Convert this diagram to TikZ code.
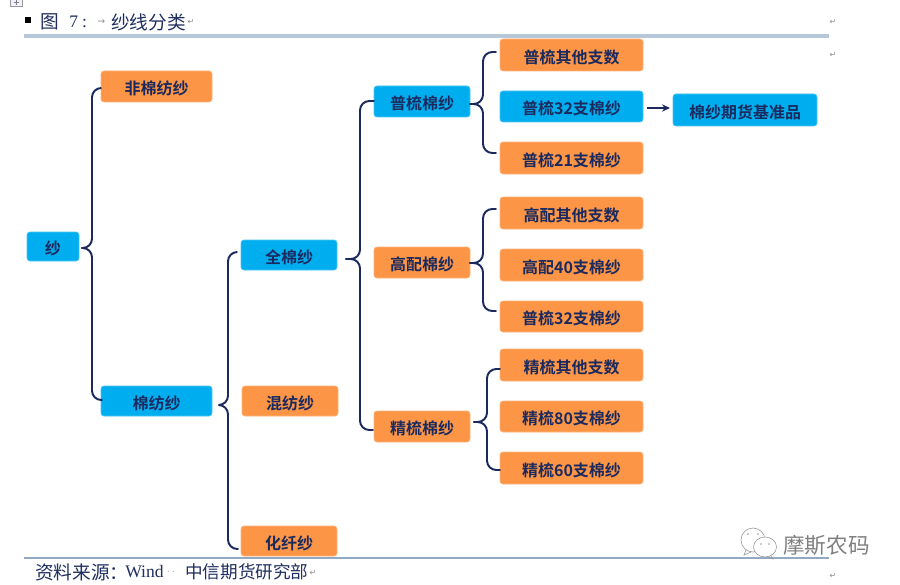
\documentclass[tikz,border=0pt]{standalone}
\usepackage{fontspec}
\setmainfont{Liberation Serif}
\newfontfamily\cjk{Noto Sans CJK SC}
\newfontfamily\cjkb{Noto Sans CJK SC Bold}
\newfontfamily\symf{DejaVu Sans}
\usetikzlibrary{calc,arrows.meta}
\definecolor{ora}{HTML}{FC9646}
\definecolor{blu}{HTML}{00AEEF}
\definecolor{navy}{HTML}{1B2A5E}
\definecolor{ruleA}{HTML}{B5C7D8}
\definecolor{ruleB}{HTML}{92A9C4}
\definecolor{txt}{HTML}{1F2F5F}
\tikzset{
 basebox/.style={rounded corners=2.2pt,inner sep=0pt,outer sep=0pt,font=\cjkb\fontsize{12pt}{13pt}\selectfont,text=navy,anchor=center},
 orabox/.style={basebox,fill=ora,draw=ora!70!white,line width=.5pt},
 blubox/.style={basebox,fill=blu,draw=blu!70!white,line width=.5pt},
 conn/.style={draw=navy,line width=1.45pt,line cap=round,rounded corners=7pt},
 editmark/.style={font=\symf\fontsize{6pt}{6pt}\selectfont,text=black!45,inner sep=0pt},
 bodytext/.style={inner sep=0pt,anchor=west,text=txt,font=\cjk\fontsize{14pt}{15pt}\selectfont},
 orgtext/.style={inner sep=0pt,anchor=west,text=txt,font=\cjk\fontsize{13.2pt}{15pt}\selectfont},
 bodylatin/.style={inner sep=0pt,anchor=west,text=txt,font=\fontsize{13.2pt}{15pt}\selectfont},
 wmline/.style={draw=black!40,line width=.45pt},
}
% node from pixel box: name, style, x0, y0, x1, y1, text
\newcommand{\pbox}[7]{\node[#2,minimum width=#5*.75pt-#3*.75pt,minimum height=#6*.75pt-#4*.75pt] (#1) at ({(#3+#5)/2},{(#4+#6)/2}) {\rule{0pt}{13.4pt}#7};}
% brace arm: parent, child, tip dx, tip dy, end dx, end dy, spine x
\newcommand{\bracearm}[7]{%
 \coordinate (tp) at ($(#1.east)+(#3,#4)$);
 \coordinate (en) at ($(#2.west)+(#5,#6)$);
 \coordinate (sp) at (#7,0);
 \draw[conn] (tp) -- (sp|-tp) -- (sp|-en) -- (en);}
\begin{document}
\begin{tikzpicture}[x=.75pt,y=-.75pt]
\useasboundingbox (0,0) rectangle (900,585);
\fill[white] (0,0) rectangle (900,585);
% rules
\draw[ruleA,line width=2.4pt] (24,36) -- (829,36);
\draw[ruleB,line width=1.5pt] (24,558) -- (829,558);
% header decorations
\draw[black!40,fill=blue!6,line width=.5pt] (10,-2) rectangle (22,6);
\draw[black!50,line width=.4pt] (16,0) -- (16,5) (13.5,2.5) -- (18.5,2.5);
\fill[black] (25,17) rectangle (31,23);
\node[bodytext] (title) at (40,22) {图};
\node[bodylatin] (num) at (69,22) {7\kern3pt:};
\node[editmark,anchor=west,font=\symf\fontsize{7pt}{7pt}\selectfont] (tab) at (97,22) {→};
\node[bodytext] (ttl) at (111,22) {纱线分类};
\node[editmark] (r1) at (191,22) {↵};
\node[editmark] (r2) at (833,22) {↵};
\node[editmark] (r3) at (833,55) {↵};
\node[bodytext] (src) at (35,572) {资料来源：};
\node[bodylatin] (wind) at (125,572) {Wind};
\node[editmark] (dots) at (171,573) {· ·};
\node[orgtext] (org) at (185,572) {中信期货研究部};
\node[editmark] (r4) at (313,573) {↵};
\node[editmark] (r5) at (833,576) {↵};
% nodes
\pbox{sha}{blubox}{27}{232}{79}{261}{纱}
\pbox{feimian}{orabox}{101}{71}{212}{102}{非棉纺纱}
\pbox{mianfang}{blubox}{101}{386}{212}{416}{棉纺纱}
\pbox{quanmian}{blubox}{241}{240}{337}{270}{全棉纱}
\pbox{hunfang}{orabox}{242}{386}{338}{416}{混纺纱}
\pbox{huaxian}{orabox}{241}{526}{337}{556}{化纤纱}
\pbox{pushu}{blubox}{374}{86}{470}{117}{普梳棉纱}
\pbox{gaopei}{orabox}{374}{247}{470}{278}{高配棉纱}
\pbox{jingshu}{orabox}{374}{411}{470}{442}{精梳棉纱}
\pbox{pa}{orabox}{500}{39}{643}{71}{普梳其他支数}
\pbox{pb}{blubox}{500}{91}{643}{122}{普梳32支棉纱}
\pbox{pc}{orabox}{500}{142}{643}{174}{普梳21支棉纱}
\pbox{ga}{orabox}{500}{197}{643}{229}{高配其他支数}
\pbox{gb}{orabox}{500}{249}{643}{281}{高配40支棉纱}
\pbox{gc}{orabox}{500}{301}{643}{332}{普梳32支棉纱}
\pbox{ja}{orabox}{500}{349}{643}{381}{精梳其他支数}
\pbox{jb}{orabox}{500}{401}{643}{432}{精梳80支棉纱}
\pbox{jc}{orabox}{500}{452}{643}{484}{精梳60支棉纱}
\pbox{std}{blubox}{673}{94}{817}{126}{棉纱期货基准品}
% connectors
\bracearm{sha}{feimian}{3}{1.5}{0}{1.5}{92}
\bracearm{sha}{mianfang}{3}{1.5}{1}{-1}{92}
\bracearm{mianfang}{quanmian}{7}{4}{-4}{-3}{228}
\bracearm{mianfang}{huaxian}{7}{4}{-3}{8}{228}
\bracearm{quanmian}{pushu}{9}{4}{0}{-.5}{360}
\bracearm{quanmian}{jingshu}{9}{4}{-1}{3.5}{360}
\bracearm{pushu}{pa}{0}{2.5}{-4}{-3}{483}
\bracearm{pushu}{pc}{0}{2.5}{-4}{-5}{483}
\bracearm{gaopei}{ga}{0}{.5}{-4}{-4}{483}
\bracearm{gaopei}{gc}{0}{.5}{-4}{-5.5}{483}
\bracearm{jingshu}{ja}{4}{-4.5}{0}{4}{487}
\bracearm{jingshu}{jc}{4}{-4.5}{0}{2}{487}
\coordinate (arrS) at ($(pb.east)+(4,1.5)$);
\coordinate (arrE) at ($(std.west)+(-3,-2)$);
\draw[navy,line width=1.4pt,-{Stealth[length=6pt,width=5.5pt]}] (arrS) -- (arrE);
% watermark
\draw[wmline,fill=white] (753,540) ellipse (12 and 12);
\draw[wmline] (746,550) -- (744,555) -- (751,552);
\fill[black!40] (748,534) circle (.8) (758,534) circle (.8);
\draw[wmline,fill=white] (765,547) ellipse (11.5 and 10);
\draw[wmline] (771,556) -- (773,559) -- (767,557);
\fill[black!40] (761,544) circle (.8) (769,544) circle (.8);
\node[inner sep=0pt,anchor=west,text=black!50,font=\cjk\fontsize{16.2pt}{18pt}\selectfont] (wm) at (783,545) {摩斯农码};
\end{tikzpicture}
\end{document}
